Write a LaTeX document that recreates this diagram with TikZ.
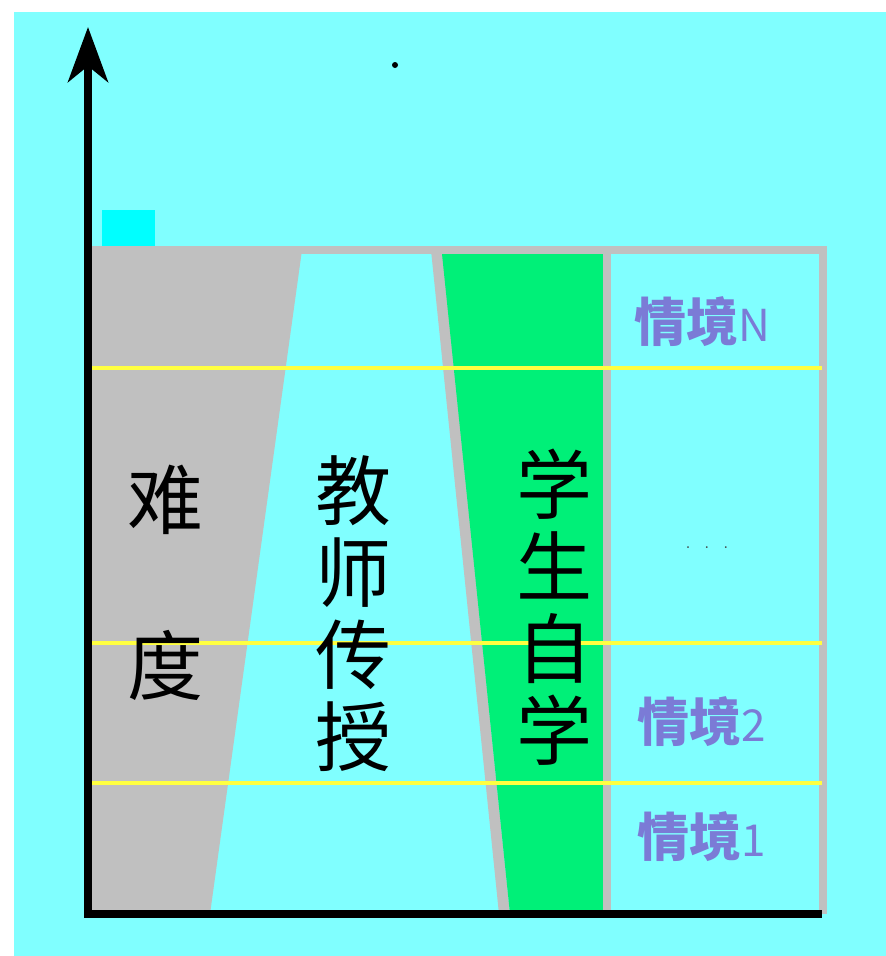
\documentclass[tikz,border=0pt]{standalone}
\usepackage{fontspec}
\usepackage{xcolor}
\usepackage{tikz}
\usetikzlibrary{arrows.meta, positioning}
\newfontfamily\cjk{Noto Sans CJK SC}
\definecolor{bgcyan}{HTML}{80FFFF}
\definecolor{markcyan}{HTML}{00FFFF}
\definecolor{zonegray}{HTML}{C0C0C0}
\definecolor{selfgreen}{HTML}{00F078}
\definecolor{levelyellow}{HTML}{FFFF40}
\definecolor{scenepurple}{HTML}{7B7BD6}

\begin{document}
\begin{tikzpicture}[
  x=1pt, y=-1pt,
  bigchar/.style={font=\cjk\fontsize{76}{82}\selectfont, align=center, inner sep=0pt},
  scene/.style={font=\cjk\bfseries\fontsize{52}{52}\selectfont, text=scenepurple, inner sep=0pt},
  level/.style={draw=levelyellow, line width=3.5pt},
  rule/.style={draw=zonegray, line width=8pt},
  axis/.style={line width=8pt},
]
\useasboundingbox (0,0) rectangle (886,956);
% Background
\fill[white] (0,0) rectangle (886,956);
\fill[bgcyan] (14,12) rectangle (886,956);
\fill[markcyan] (102,210) rectangle (155,246);
\fill (395,65) circle (3);

% Zones
\fill[zonegray] (90,250) -- (302,250) -- (210,914) -- (90,914) -- cycle;
\fill[zonegray] (431,250) -- (442,250) -- (510,914) -- (499,914) -- cycle;
\fill[selfgreen] (442,254) -- (603,254) -- (603,914) -- (510,914) -- cycle;

% Frame
\draw[rule] (88,250) -- (827,250);
\draw[rule] (607,250) -- (607,914);
\draw[rule] (823,250) -- (823,914);
\foreach \y in {368,643,783} {
  \draw[level] (92,\y) -- (822,\y);
}

% Axes
\coordinate (ytop) at (88,27);
\coordinate (origin) at (88,914);
\coordinate (xend) at (822,914);
\draw[axis, {Stealth[length=55pt, width=40pt, inset=16pt]}-] (ytop) -- (origin) -- (xend);

% Labels
\node[bigchar] (nan) at (165,500) {难};
\node[bigchar] (du) at (165,665) {度};
\node[bigchar] (teach) at (353,614) {教\\师\\传\\授};
\node[bigchar] (self) at (554,607) {学\\生\\自\\学};
\foreach \n/\y/\lab in {sN/322/N, s2/722/2, s1/837/1} {
  \node[scene] (\n) at (702,\y) {情境{\mdseries\fontsize{44}{44}\selectfont\lab}};
}
\node[font=\fontsize{22}{22}\selectfont, text=darkgray] (dots) at (707,548) {.\ \ .\ \ .};
\end{tikzpicture}
\end{document}
